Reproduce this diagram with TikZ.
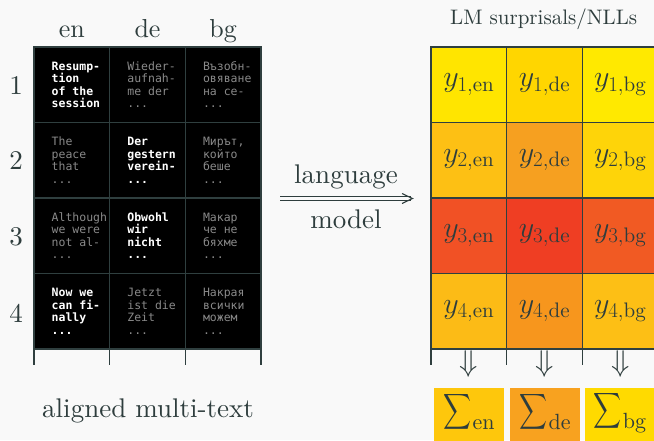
\RequirePackage{fix-cm}
\documentclass[tikz,border=0pt]{standalone}
\usepackage{amsmath}
\usepackage{fontspec}
\usepackage{graphicx}
\usetikzlibrary{arrows.meta}
\setmainfont{lmroman10-regular.otf}[BoldFont=lmroman10-bold.otf, ItalicFont=lmroman10-italic.otf]
\newfontfamily\cellfont{DejaVu Sans Mono}
\definecolor{bgc}{HTML}{F9F9F9}
\definecolor{ink}{HTML}{2E3D3D}
\definecolor{gridL}{HTML}{2F3F3F}
\definecolor{gridR}{HTML}{2F4040}
\definecolor{dimtxt}{HTML}{8A8A8A}
\definecolor{c11}{HTML}{FFE500}\definecolor{c12}{HTML}{FFD600}\definecolor{c13}{HTML}{FFE900}
\definecolor{c21}{HTML}{FDC014}\definecolor{c22}{HTML}{F6A020}\definecolor{c23}{HTML}{FED409}
\definecolor{c31}{HTML}{F15125}\definecolor{c32}{HTML}{EF3E23}\definecolor{c33}{HTML}{F15A23}
\definecolor{c41}{HTML}{FCBB16}\definecolor{c42}{HTML}{F7961D}\definecolor{c43}{HTML}{FDBF15}
\definecolor{s1}{HTML}{FEC70C}\definecolor{s2}{HTML}{F8A21F}\definecolor{s3}{HTML}{FFDA00}
\tikzset{
  cellL/.style={draw=gridL, line width=1.4pt, fill=black, minimum width=75.67pt, minimum height=75.5pt, inner sep=0pt, outer sep=0pt},
  cellR/.style={draw=gridR, line width=1.4pt, minimum width=75.67pt, minimum height=75.5pt, inner sep=0pt, outer sep=0pt, text=ink, font=\fontsize{30}{36}\selectfont},
  ctext/.style={anchor=west, align=left, inner sep=0pt, text=dimtxt, font=\cellfont\fontsize{11.5}{12.5}\selectfont},
  hi/.style={text=white, font=\cellfont\bfseries\fontsize{11.5}{12.5}\selectfont},
  ext/.style={draw=gridL, line width=1.4pt},
  hdr/.style={anchor=base, text=ink, inner sep=0pt, font=\fontsize{26}{30}\selectfont},
  rownum/.style={text=ink, inner sep=0pt, font=\fontsize{27}{30}\selectfont},
  biglabel/.style={anchor=base, text=ink, inner sep=0pt, font=\fontsize{27}{32}\selectfont},
  darr/.style={text=ink, inner sep=0pt, font=\fontsize{30}{34}\selectfont},
  sumbox/.style={minimum width=70pt, minimum height=56pt, inner sep=0pt, outer sep=0pt},
  sumlabel/.style={text=ink, inner sep=0pt, font=\fontsize{25}{28}\selectfont},
  arrowline/.style={draw=ink, line width=1.1pt},
}
\newcommand{\sumlab}[1]{\scalebox{0.78}[1]{$\displaystyle\sum$}\hspace{1pt}\raisebox{-11pt}{\fontsize{22}{22}\selectfont #1}}
\begin{document}
\begin{tikzpicture}[x=1pt,y=-1pt]
\fill[bgc] (0,0) rectangle (654,440);
\useasboundingbox (0,0) rectangle (654,440);

% headers
\node[hdr] (h1) at (71.83,37) {en};
\node[hdr] (h2) at (147.5,37) {de};
\node[hdr] (h3) at (223.17,37) {bg};
% row numbers
\node[rownum] (n1) at (16,86) {1};
\node[rownum] (n2) at (16,160.5) {2};
\node[rownum] (n3) at (16,237) {3};
\node[rownum] (n4) at (16,313) {4};

% left grid cells
\foreach \r/\yc in {1/84.75,2/160.25,3/235.75,4/311.25}{
  \foreach \c/\xc in {1/71.83,2/147.5,3/223.17}{
    \node[cellL] (L-\r-\c) at (\xc,\yc) {};
  }
}
% cell texts
\node[ctext,hi] (t11) at ([xshift=17.5pt]L-1-1.west) {Resump-\\tion\\of the\\session};
\node[ctext] (t12) at ([xshift=17.5pt]L-1-2.west) {Wieder-\\aufnah-\\me der\\...};
\node[ctext] (t13) at ([xshift=17.5pt]L-1-3.west) {Възобн-\\овяване\\на се-\\...};
\node[ctext] (t21) at ([xshift=17.5pt]L-2-1.west) {The\\peace\\that\\...};
\node[ctext,hi] (t22) at ([xshift=17.5pt]L-2-2.west) {Der\\gestern\\verein-\\...};
\node[ctext] (t23) at ([xshift=17.5pt]L-2-3.west) {Мирът,\\който\\беше\\...};
\node[ctext] (t31) at ([xshift=17.5pt]L-3-1.west) {Although\\we were\\not al-\\...};
\node[ctext,hi] (t32) at ([xshift=17.5pt]L-3-2.west) {Obwohl\\wir\\nicht\\...};
\node[ctext] (t33) at ([xshift=17.5pt]L-3-3.west) {Макар\\че не\\бяхме\\...};
\node[ctext,hi] (t41) at ([xshift=17.5pt]L-4-1.west) {Now we\\can fi-\\nally\\...};
\node[ctext] (t42) at ([xshift=17.5pt]L-4-2.west) {Jetzt\\ist die\\Zeit\\...};
\node[ctext] (t43) at ([xshift=17.5pt]L-4-3.west) {Накрая\\всички\\можем\\...};
% left extensions
\draw[ext] (L-4-1.south west) -- ++(0,16);
\draw[ext] (L-4-1.south east) -- ++(0,16);
\draw[ext] (L-4-2.south east) -- ++(0,16);
\draw[ext] (L-4-3.south east) -- ++(0,16);

\node[biglabel] (alt) at (148,417) {aligned multi-text};

% arrow
\coordinate (a1) at (280,198.5);
\coordinate (a2) at (411,198.5);
\draw[arrowline] ([yshift=1.6pt]a1) -- ([yshift=1.6pt]a2);
\draw[arrowline] ([yshift=-1.6pt]a1) -- ([yshift=-1.6pt]a2);
\draw[arrowline, line join=miter] ([xshift=-9pt,yshift=5pt]a2) -- ([xshift=1.5pt]a2) -- ([xshift=-9pt,yshift=-5pt]a2);
\node[biglabel] (lang) at (346,183) {language};
\node[biglabel] (model) at (346,228) {model};

% right label
\node[anchor=base, text=ink, inner sep=0pt, font=\fontsize{21}{25}\selectfont] (lm) at (543.7,24) {LM surprisals/NLLs};

% right grid
\node[cellR, fill=c11] (R-1-1) at (468.83,84.75) {$y_{1,\mathrm{en}}$};
\node[cellR, fill=c12] (R-1-2) at (544.5,84.75) {$y_{1,\mathrm{de}}$};
\node[cellR, fill=c13] (R-1-3) at (620.17,84.75) {$y_{1,\mathrm{bg}}$};
\node[cellR, fill=c21] (R-2-1) at (468.83,160.25) {$y_{2,\mathrm{en}}$};
\node[cellR, fill=c22] (R-2-2) at (544.5,160.25) {$y_{2,\mathrm{de}}$};
\node[cellR, fill=c23] (R-2-3) at (620.17,160.25) {$y_{2,\mathrm{bg}}$};
\node[cellR, fill=c31] (R-3-1) at (468.83,235.75) {$y_{3,\mathrm{en}}$};
\node[cellR, fill=c32] (R-3-2) at (544.5,235.75) {$y_{3,\mathrm{de}}$};
\node[cellR, fill=c33] (R-3-3) at (620.17,235.75) {$y_{3,\mathrm{bg}}$};
\node[cellR, fill=c41] (R-4-1) at (468.83,311.25) {$y_{4,\mathrm{en}}$};
\node[cellR, fill=c42] (R-4-2) at (544.5,311.25) {$y_{4,\mathrm{de}}$};
\node[cellR, fill=c43] (R-4-3) at (620.17,311.25) {$y_{4,\mathrm{bg}}$};
% right extensions
\draw[ext] (R-4-1.south west) -- ++(0,16);
\draw[ext] (R-4-1.south east) -- ++(0,16);
\draw[ext] (R-4-2.south east) -- ++(0,16);
\draw[ext] (R-4-3.south east) -- ++(0,16);

% down arrows
\node[darr] (d1) at (468.83,364) {$\Downarrow$};
\node[darr] (d2) at (544.5,364) {$\Downarrow$};
\node[darr] (d3) at (620.17,364) {$\Downarrow$};

% sum boxes
\node[sumbox, fill=s1] (S-1) at (469,416) {};
\node[sumbox, fill=s2] (S-2) at (545,416) {};
\node[sumbox, fill=s3] (S-3) at (620,416) {};
\node[sumlabel] (sl1) at (469,412) {\sumlab{en}};
\node[sumlabel] (sl2) at (545,412) {\sumlab{de}};
\node[sumlabel] (sl3) at (620,412) {\sumlab{bg}};
\end{tikzpicture}
\end{document}
